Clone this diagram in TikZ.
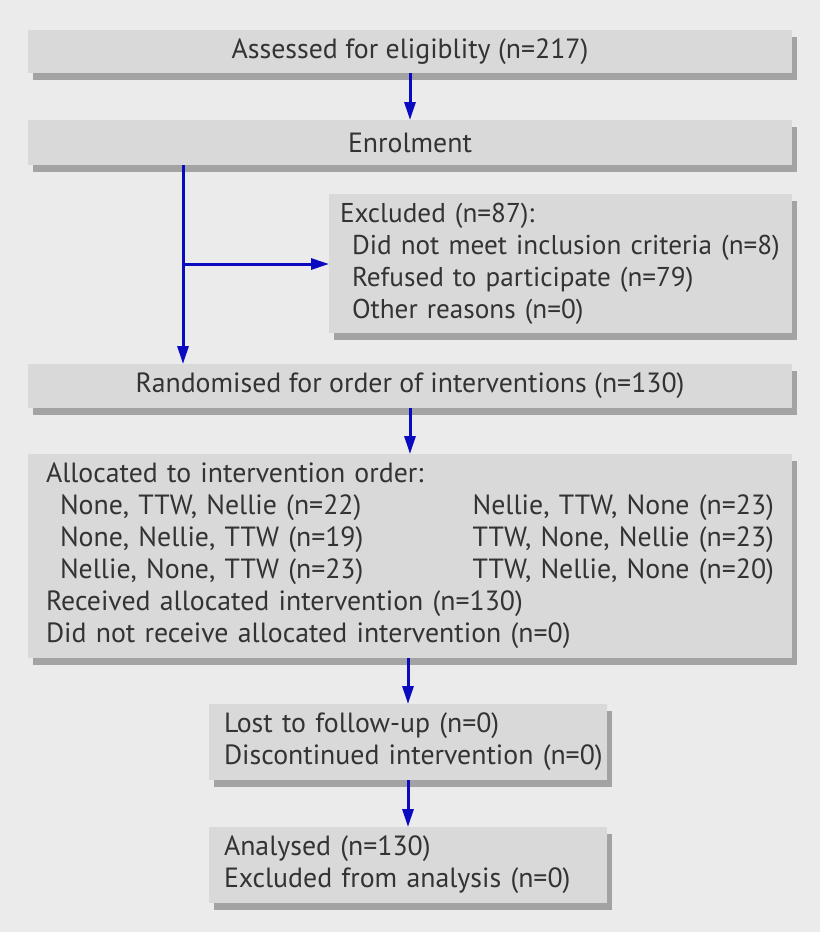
\documentclass[tikz,border=0pt]{standalone}
\usepackage{fontspec}
\setmainfont{PT Sans}
\usetikzlibrary{arrows.meta,shadows}
\definecolor{bgc}{HTML}{EBEBEB}
\definecolor{boxc}{HTML}{D9D9D9}
\definecolor{shc}{HTML}{A3A3A3}
\definecolor{txc}{HTML}{333333}
\definecolor{arc}{HTML}{0A0AC0}
\tikzset{
  x=1pt,y=1pt,
  box/.style={fill=boxc, draw=none, text=txc, inner ysep=0pt, outer sep=0pt,
    font=\fontsize{27.8}{32}\selectfont,
    drop shadow={shadow xshift=5pt, shadow yshift=-7pt, fill=shc, opacity=1}},
  flow/.style={draw=arc, line width=3pt, -{Triangle[length=18pt,width=11pt]}}
}
\begin{document}
\begin{tikzpicture}
\fill[bgc] (0,0) rectangle (820,-932);
\useasboundingbox (0,0) rectangle (820,-932);

\node[box, anchor=north west, minimum width=764pt, minimum height=43pt] (assess) at (28,-30) {Assessed for eligiblity (n=217)};
\node[box, anchor=north west, minimum width=764pt, minimum height=45pt] (enrol) at (28,-120) {Enrolment};
\node[box, anchor=north west, minimum width=463pt, minimum height=139pt, align=left, text width=441pt, inner xsep=11pt, font=\fontsize{27.2}{32}\selectfont] (excl) at (329,-194)
  {\mbox{Excluded (n=87):}\\
   \mbox{\hspace*{12pt}Did not meet inclusion criteria (n=8)}\\
   \mbox{\hspace*{12pt}Refused to participate (n=79)}\\
   \mbox{\hspace*{12pt}Other reasons (n=0)}};
\node[box, anchor=north west, minimum width=764pt, minimum height=44pt] (rand) at (28,-364) {Randomised for order of interventions (n=130)};
\node[box, anchor=north west, minimum width=764pt, minimum height=204pt, align=left, text width=728pt, inner xsep=18pt] (alloc) at (28,-454)
  {Allocated to intervention order:\\
   \hspace*{14pt}None, TTW, Nellie (n=22)\hfill Nellie, TTW, None (n=23)\\
   \hspace*{14pt}None, Nellie, TTW (n=19)\hfill TTW, None, Nellie (n=23)\\
   \hspace*{14pt}Nellie, None, TTW (n=23)\hfill TTW, Nellie, None (n=20)\\
   Received allocated intervention (n=130)\\
   Did not receive allocated intervention (n=0)};
\node[box, anchor=north west, minimum width=398pt, minimum height=76pt, align=left, text width=368pt, inner xsep=15pt] (lost) at (209,-704)
  {\mbox{Lost to follow-up (n=0)}\\\mbox{Discontinued intervention (n=0)}};
\node[box, anchor=north west, minimum width=398pt, minimum height=76pt, align=left, text width=368pt, inner xsep=15pt] (anal) at (209,-827)
  {\mbox{Analysed (n=130)}\\\mbox{Excluded from analysis (n=0)}};

\coordinate (split) at (183,-264);
\draw[flow] (assess.south) -- (enrol.north);
\draw[flow] (enrol.south -| split) -- (rand.north -| split);
\draw[flow] (split) -- (excl.west |- split);
\draw[flow] (rand.south) -- (alloc.north);
\draw[flow] (alloc.south -| lost.north) -- (lost.north);
\draw[flow] (lost.south) -- (anal.north);
\end{tikzpicture}
\end{document}
